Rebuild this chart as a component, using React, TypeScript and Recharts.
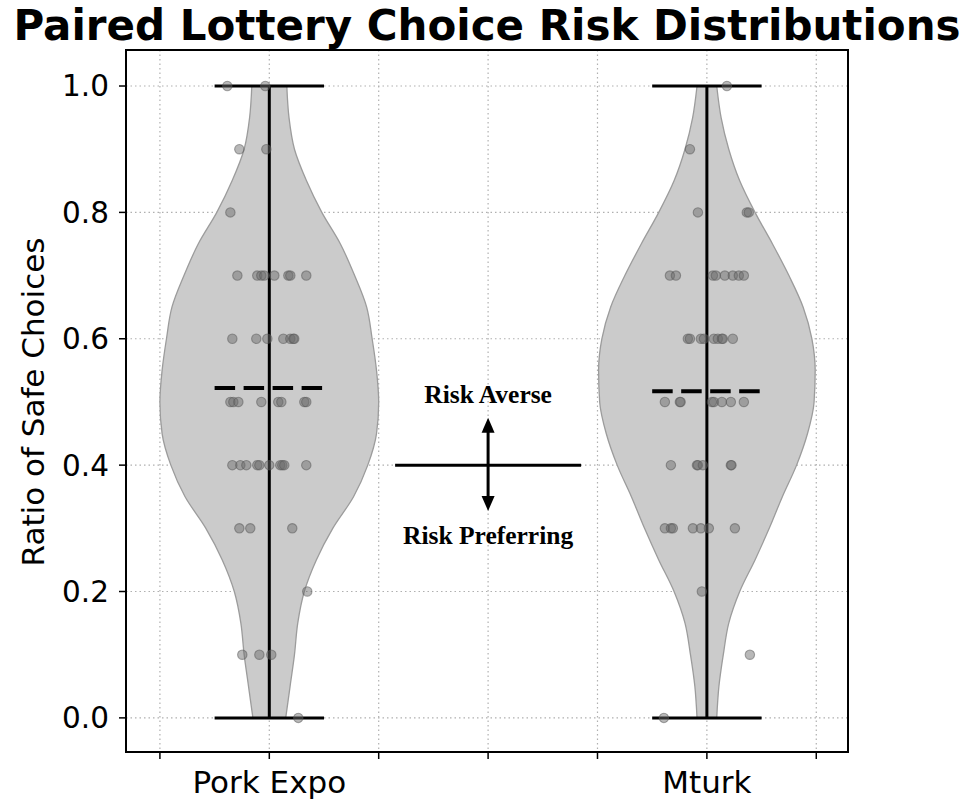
import {
  Area,
  CartesianGrid,
  ComposedChart,
  ReferenceArea,
  ReferenceDot,
  ReferenceLine,
  Scatter,
  XAxis,
  YAxis,
} from 'recharts'

const CATEGORIES = ['Pork Expo', 'Mturk']
const CATEGORY_POS = [1, 5]
const X_TICKS = [0, 1, 2, 3, 4, 5, 6]
const Y_TICKS = [0, 0.2, 0.4, 0.6, 0.8, 1.0]

// violin outline, half-width (x units) per ratio level
const violinY = [0, 0.05, 0.1, 0.15, 0.2, 0.25, 0.3, 0.35, 0.4, 0.45, 0.5, 0.55, 0.6, 0.65, 0.7, 0.75, 0.8, 0.85, 0.9, 0.95, 1.0]
const porkHalfWidth = [0.15, 0.19, 0.23, 0.26, 0.32, 0.43, 0.58, 0.77, 0.9, 0.98, 1.0, 0.98, 0.94, 0.89, 0.78, 0.65, 0.48, 0.34, 0.23, 0.18, 0.16]
const mturkHalfWidth = [0.09, 0.11, 0.15, 0.2, 0.3, 0.44, 0.57, 0.69, 0.82, 0.92, 0.98, 0.99, 0.96, 0.88, 0.75, 0.6, 0.44, 0.3, 0.2, 0.13, 0.09]

const porkMean = 0.522
const mturkMean = 0.517

// jittered respondents
const porkX = [
  0.616, 0.963, 0.726, 0.973, 0.644,
  0.708, 0.89, 0.927, 0.954, 1.046, 1.174, 1.192, 1.338,
  0.662, 0.881, 0.982, 1.128, 1.192, 1.219, 1.228,
  0.644, 0.671, 0.717, 0.927, 1.082, 1.11, 1.32, 1.338,
  0.662, 0.735, 0.79, 0.89, 0.909, 1.0, 1.1, 1.119, 1.137, 1.338,
  0.726, 0.826, 1.21, 1.347, 0.753, 0.909, 1.018, 1.265,
]
const porkY = [
  1.0, 1.0, 0.9, 0.9, 0.8,
  0.7, 0.7, 0.7, 0.7, 0.7, 0.7, 0.7, 0.7,
  0.6, 0.6, 0.6, 0.6, 0.6, 0.6, 0.6,
  0.5, 0.5, 0.5, 0.5, 0.5, 0.5, 0.5, 0.5,
  0.4, 0.4, 0.4, 0.4, 0.4, 0.4, 0.4, 0.4, 0.4, 0.4,
  0.3, 0.3, 0.3, 0.2, 0.1, 0.1, 0.1, 0.0,
]
const mturkX = [
  5.183, 4.845, 4.918, 5.365, 5.383,
  4.662, 4.717, 5.055, 5.082, 5.164, 5.237, 5.292, 5.338,
  4.826, 4.845, 4.945, 4.973, 5.064, 5.1, 5.137, 5.146, 5.237,
  4.616, 4.753, 4.76, 5.046, 5.064, 5.137, 5.219, 5.338,
  4.671, 4.909, 4.918, 4.963, 5.219, 5.225,
  4.616, 4.671, 4.689, 4.872, 4.945, 5.018, 5.256,
  4.954, 5.393, 4.607,
]
const mturkY = [
  1.0, 0.9, 0.8, 0.8, 0.8,
  0.7, 0.7, 0.7, 0.7, 0.7, 0.7, 0.7, 0.7,
  0.6, 0.6, 0.6, 0.6, 0.6, 0.6, 0.6, 0.6, 0.6,
  0.5, 0.5, 0.5, 0.5, 0.5, 0.5, 0.5, 0.5,
  0.4, 0.4, 0.4, 0.4, 0.4, 0.4,
  0.3, 0.3, 0.3, 0.3, 0.3, 0.3, 0.3,
  0.2, 0.1, 0.0,
]

const violinRows = violinY.map((y, i) => ({
  y,
  pork: [CATEGORY_POS[0] - porkHalfWidth[i], CATEGORY_POS[0] + porkHalfWidth[i]],
  mturk: [CATEGORY_POS[1] - mturkHalfWidth[i], CATEGORY_POS[1] + mturkHalfWidth[i]],
}))
const porkPoints = porkX.map((x, i) => ({ x, y: porkY[i] }))
const mturkPoints = mturkX.map((x, i) => ({ x, y: mturkY[i] }))

const X_DOMAIN: [number, number] = [-0.31, 6.29]
const Y_DOMAIN: [number, number] = [-0.054, 1.057]
const FONT = '"DejaVu Sans", sans-serif'
const SERIF = '"Liberation Serif", "Times New Roman", serif'
const GRID = '#b0b0b0'
const VIOLIN_FILL = '#cbcbcb'
const VIOLIN_EDGE = '#9c9c9c'

const dot = (props: any) => (
  <circle
    cx={props.cx}
    cy={props.cy}
    r={4.7}
    fill="#6a6a6a"
    fillOpacity={0.48}
    stroke="#555"
    strokeOpacity={0.5}
    strokeWidth={1.1}
  />
)

const arrowUp = (p: any) => (
  <polygon points={`${p.cx},${p.cy} ${p.cx - 6.5},${p.cy + 15} ${p.cx + 6.5},${p.cy + 15}`} fill="#000" />
)
const arrowDown = (p: any) => (
  <polygon points={`${p.cx},${p.cy} ${p.cx - 6.5},${p.cy - 15} ${p.cx + 6.5},${p.cy - 15}`} fill="#000" />
)
const note = (text: string) => (p: any) => (
  <text x={p.cx} y={p.cy} textAnchor="middle" fontFamily={SERIF} fontWeight="bold" fontSize={25.5} fill="#000">
    {text}
  </text>
)

export default function App() {
  return (
    <div style={{ position: 'absolute', left: 0, top: 0, width: 976, height: 804, background: '#fff' }}>
      <ComposedChart
        width={976}
        height={804}
        layout="vertical"
        data={violinRows}
        margin={{ top: 50, right: 128, bottom: 2, left: 46 }}
      >
        <CartesianGrid stroke={GRID} strokeDasharray="1.5 3" strokeWidth={1.2} />
        <XAxis
          type="number"
          dataKey="x"
          domain={X_DOMAIN}
          ticks={X_TICKS}
          allowDataOverflow
          height={50}
          tickSize={7}
          tickMargin={12}
          axisLine={{ stroke: '#000', strokeWidth: 2 }}
          tickLine={{ stroke: '#000', strokeWidth: 1.5 }}
          tick={{ fill: '#000', fontSize: 31, fontFamily: FONT }}
          tickFormatter={(v: number) => {
            const i = CATEGORY_POS.indexOf(v)
            return i >= 0 ? CATEGORIES[i] : ''
          }}
        />
        <YAxis
          type="number"
          dataKey="y"
          domain={Y_DOMAIN}
          ticks={Y_TICKS}
          allowDataOverflow
          reversed
          width={80}
          tickSize={7}
          tickMargin={10}
          axisLine={{ stroke: '#000', strokeWidth: 2 }}
          tickLine={{ stroke: '#000', strokeWidth: 1.5 }}
          tick={{ fill: '#000', fontSize: 29.5, fontFamily: FONT }}
          tickFormatter={(v: number) => v.toFixed(1)}
        />
        <Area
          type="monotone"
          dataKey="pork"
          stroke={VIOLIN_EDGE}
          strokeWidth={1.3}
          fill={VIOLIN_FILL}
          fillOpacity={1}
          dot={false}
          activeDot={false}
          isAnimationActive={false}
        />
        <Area
          type="monotone"
          dataKey="mturk"
          stroke={VIOLIN_EDGE}
          strokeWidth={1.3}
          fill={VIOLIN_FILL}
          fillOpacity={1}
          dot={false}
          activeDot={false}
          isAnimationActive={false}
        />

        {CATEGORY_POS.map((c) => (
          <ReferenceLine key={`v${c}`} segment={[{ x: c, y: 0 }, { x: c, y: 1 }]} stroke="#000" strokeWidth={3} />
        ))}
        {CATEGORY_POS.map((c) => (
          <ReferenceLine key={`t${c}`} segment={[{ x: c - 0.5, y: 1 }, { x: c + 0.5, y: 1 }]} stroke="#000" strokeWidth={3} />
        ))}
        {CATEGORY_POS.map((c) => (
          <ReferenceLine key={`b${c}`} segment={[{ x: c - 0.5, y: 0 }, { x: c + 0.5, y: 0 }]} stroke="#000" strokeWidth={3} />
        ))}
        <ReferenceLine
          segment={[{ x: CATEGORY_POS[0] - 0.5, y: porkMean }, { x: CATEGORY_POS[0] + 0.5, y: porkMean }]}
          stroke="#000"
          strokeWidth={4}
          strokeDasharray="20.5 8.5"
        />
        <ReferenceLine
          segment={[{ x: CATEGORY_POS[1] - 0.5, y: mturkMean }, { x: CATEGORY_POS[1] + 0.5, y: mturkMean }]}
          stroke="#000"
          strokeWidth={4}
          strokeDasharray="20.5 8.5"
        />

        <Scatter data={porkPoints} dataKey="x" shape={dot} isAnimationActive={false} />
        <Scatter data={mturkPoints} dataKey="x" shape={dot} isAnimationActive={false} />

        {/* risk annotation */}
        <ReferenceLine segment={[{ x: 2.15, y: 0.4 }, { x: 3.85, y: 0.4 }]} stroke="#000" strokeWidth={3} />
        <ReferenceLine segment={[{ x: 3, y: 0.46 }, { x: 3, y: 0.343 }]} stroke="#000" strokeWidth={3} />
        <ReferenceDot x={3} y={0.475} shape={arrowUp} />
        <ReferenceDot x={3} y={0.3275} shape={arrowDown} />
        <ReferenceDot x={3} y={0.499} shape={note('Risk Averse')} />
        <ReferenceDot x={3} y={0.275} shape={note('Risk Preferring')} />

        <ReferenceArea
          x1={X_DOMAIN[0]}
          x2={X_DOMAIN[1]}
          y1={Y_DOMAIN[0]}
          y2={Y_DOMAIN[1]}
          fill="none"
          fillOpacity={0}
          stroke="#000"
          strokeWidth={2}
        />
      </ComposedChart>
      <svg width={976} height={804} style={{ position: 'absolute', left: 0, top: 0, pointerEvents: 'none' }}>
        <text x={487} y={39.5} textAnchor="middle" fontFamily={FONT} fontWeight="bold" fontSize={42} fill="#000">
          Paired Lottery Choice Risk Distributions
        </text>
        <text
          transform="translate(44 402) rotate(-90)"
          textAnchor="middle"
          fontFamily={FONT}
          fontSize={31}
          fill="#000"
        >
          Ratio of Safe Choices
        </text>
      </svg>
    </div>
  )
}
